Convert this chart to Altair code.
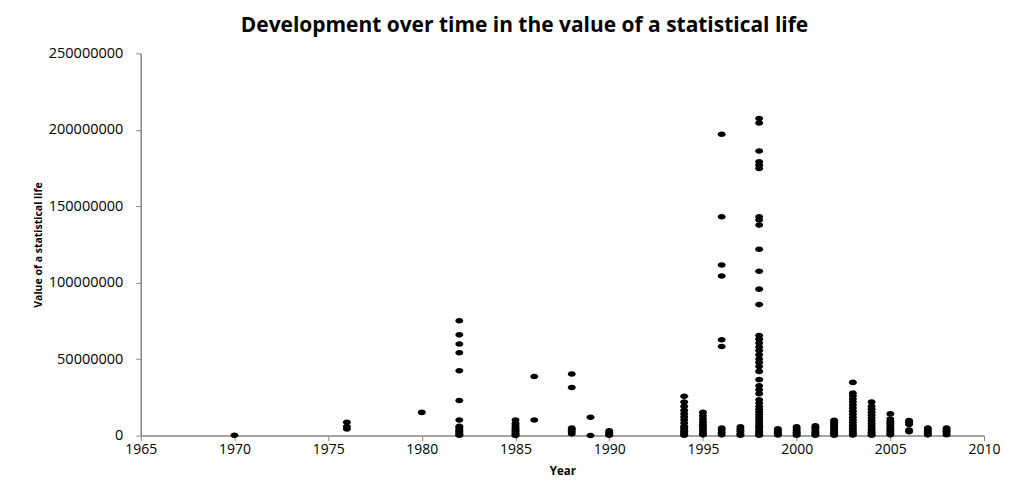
import altair as alt
import pandas as pd

# Values in millions
v1970 = [0.2]
v1976 = [8.7, 6.0, 4.4]
v1980 = [15.2]
v1982 = [75.1, 65.9, 59.9, 54.2, 42.4, 23.0, 10.2, 6.1, 4.8, 3.5, 2.6, 1.8, 0.9, 0.3]
v1985 = [10.2, 8.0, 6.6, 5.3, 4.2, 3.2, 2.3, 1.4, 0.6, 0.1]
v1986 = [38.7, 10.2]
v1988 = [40.3, 31.5, 5.0, 4.0, 2.6, 1.2]
v1989 = [12.0, 0.1]
v1990 = [3.2, 2.0, 1.0, 0.3]
v1994 = [25.7, 22.0, 19.1, 16.5, 14.2, 12.2, 10.4, 8.3, 6.1, 5.0, 3.9, 2.8, 1.8, 0.8, 0.2]
v1995 = [15.2, 13.0, 11.0, 9.0, 7.5, 6.0, 4.5, 3.0, 1.5, 0.5]
v1996 = [197.1, 143.1, 111.6, 104.4, 62.7, 58.3, 5.0, 3.6, 2.0, 0.5]
v1997 = [5.7, 4.2, 2.8, 1.4, 0.3]
v1998 = [207.4, 204.5, 186.2, 179.1, 176.9, 174.7, 143.1, 141.0, 137.7, 121.9,
         107.5, 95.8, 85.7, 65.5, 63.1, 60.5, 57.9, 55.7, 52.9, 50.1, 47.9, 45.2,
         42.0, 36.6, 32.6, 30.0, 27.4, 23.5, 21.3, 19.0, 17.2, 15.5, 13.8, 12.1,
         10.5, 9.0, 7.6, 6.2, 5.0, 3.8, 2.7, 1.7, 0.8, 0.2]
v1999 = [4.4, 3.3, 2.2, 1.2, 0.4]
v2000 = [5.7, 4.5, 3.3, 2.2, 1.2, 0.3]
v2001 = [6.5, 5.4, 4.3, 3.2, 2.2, 1.2, 0.3]
v2002 = [10.0, 8.8, 7.6, 6.4, 5.2, 4.1, 3.0, 2.0, 1.0, 0.3]
v2003 = [34.8, 27.9, 26.0, 24.0, 22.0, 20.0, 18.0, 16.0, 14.0, 12.0, 10.2, 8.5,
         6.8, 5.2, 3.8, 2.5, 1.3, 0.4]
v2004 = [22.0, 19.1, 17.2, 15.3, 13.4, 11.5, 9.7, 8.0, 6.4, 4.9, 3.5, 2.2, 1.0, 0.3]
v2005 = [14.2, 10.9, 9.4, 8.0, 6.6, 5.2, 3.9, 2.7, 1.5, 0.5]
v2006 = [9.8, 8.5, 7.2, 3.6, 2.6]
v2007 = [5.0, 3.8, 2.6, 1.5, 0.5]
v2008 = [5.0, 3.9, 2.8, 1.7, 0.6]

series = {
    1970: v1970, 1976: v1976, 1980: v1980, 1982: v1982, 1985: v1985,
    1986: v1986, 1988: v1988, 1989: v1989, 1990: v1990, 1994: v1994,
    1995: v1995, 1996: v1996, 1997: v1997, 1998: v1998, 1999: v1999,
    2000: v2000, 2001: v2001, 2002: v2002, 2003: v2003, 2004: v2004,
    2005: v2005, 2006: v2006, 2007: v2007, 2008: v2008,
}

x_ticks = [1965, 1970, 1975, 1980, 1985, 1990, 1995, 2000, 2005, 2010]
y_ticks = [0, 50000000, 100000000, 150000000, 200000000, 250000000]

rows = []
for yr, vals in series.items():
    for v in vals:
        rows.append({"Year": yr, "VSL": v * 1e6})
df = pd.DataFrame(rows)

ellipse = "M -1 0 A 1 0.7 0 1 1 1 0 A 1 0.7 0 1 1 -1 0 Z"

axis_color = "#868686"
label_font = "Open Sans"

points = alt.Chart(df).mark_point(
    filled=True, shape=ellipse, size=64, color="#000000", opacity=1, strokeWidth=0
).encode(
    x=alt.X(
        "Year:Q",
        scale=alt.Scale(domain=[1965, 2010], nice=False, zero=False),
        axis=alt.Axis(
            values=x_ticks, format="d", title="Year", grid=False,
            domainColor=axis_color, domainWidth=1.5, tickColor=axis_color,
            tickSize=5, tickWidth=1, labelPadding=2, labelFont=label_font,
            labelFontSize=14, labelColor="#000000", titleFont=label_font,
            titleFontSize=11.5, titleFontWeight="bold", titleColor="#000000",
            titlePadding=9, labelFlush=False,
        ),
    ),
    y=alt.Y(
        "VSL:Q",
        scale=alt.Scale(domain=[0, 250000000], nice=False, zero=True),
        axis=alt.Axis(
            values=y_ticks, format="d", title="Value of a statistical life", grid=False,
            domainColor=axis_color, domainWidth=1.5, tickColor=axis_color,
            tickSize=5, tickWidth=1, labelPadding=13, labelFont=label_font,
            labelFontSize=14.5, labelColor="#000000",
            titleFont=label_font,
            titleFontSize=10.5, titleFontWeight="bold", titleColor="#000000",
            titleX=-99, titleBaseline="alphabetic", labelFlush=False,
        ),
    ),
)

chart = points.properties(
    width=845,
    height=383,
    background="#ffffff",
    title=alt.TitleParams(
        "Development over time in the value of a statistical life",
        font=label_font, fontSize=21, fontWeight="bold", color="#000000",
        anchor="middle", dx=-38, offset=9,
    ),
    autosize=alt.AutoSizeParams(type="none"),
    padding={"left": 133, "top": 45, "right": 20, "bottom": 45},
).configure_view(stroke=None)

chart.save("out.html", embed_options={"renderer": "svg", "actions": False})
